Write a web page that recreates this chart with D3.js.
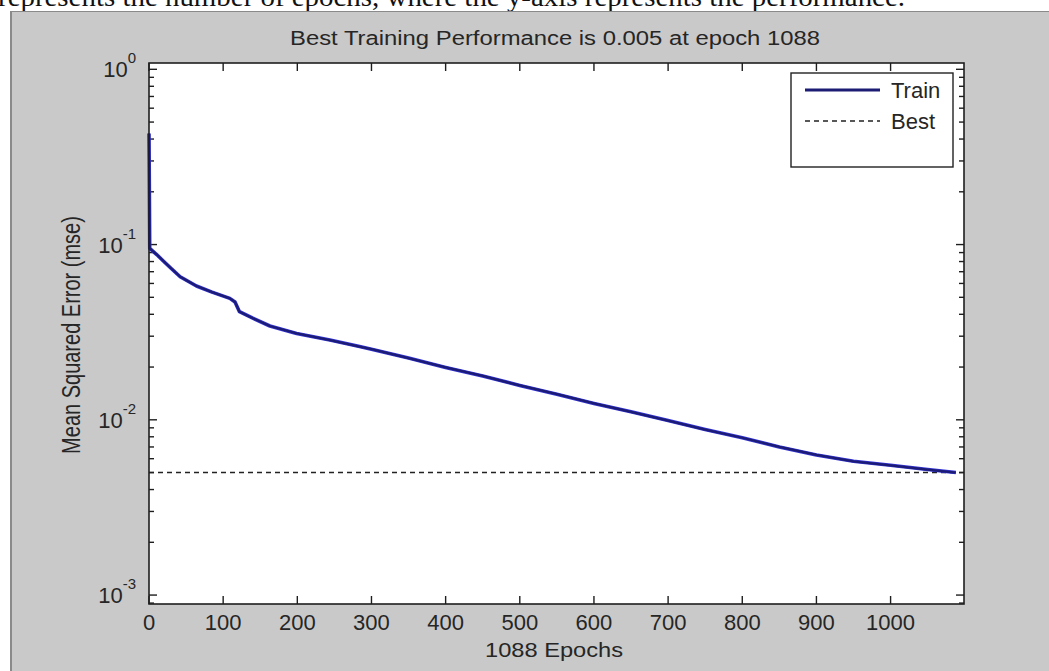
<!DOCTYPE html>
<html>
<head>
<meta charset="utf-8">
<script src="https://cdn.jsdelivr.net/npm/d3@7"></script>
<style>
  html, body { margin: 0; padding: 0; background: #fff; }
  svg { display: block; }
</style>
</head>
<body>
<svg id="chart" width="1049" height="671"></svg>
<script>
// ---- data ----
const epochs = [0, 1, 10, 20, 30, 42, 64, 85, 109, 116, 122, 140, 163, 199, 244, 284, 300, 350, 400, 450, 500, 550, 600, 650, 700, 750, 800, 850, 900, 950, 1000, 1050, 1088];
const mseTrain = [0.43, 0.095, 0.088, 0.080, 0.073, 0.0655, 0.058, 0.0535, 0.0493, 0.047, 0.0414, 0.038, 0.0343, 0.0311, 0.0285, 0.0262, 0.0253, 0.0225, 0.0199, 0.0178, 0.0157, 0.0140, 0.0124, 0.0111, 0.0099, 0.0088, 0.0079, 0.0070, 0.0063, 0.0058, 0.0055, 0.0052, 0.0050];
const bestValue = 0.005;
const bestEpoch = 1088;
const xTicks = [0, 100, 200, 300, 400, 500, 600, 700, 800, 900, 1000];
const yDecades = [-3, -2, -1, 0];
const legendLabels = ["Train", "Best"];
const titleText = "Best Training Performance is 0.005 at epoch 1088";
const xLabelText = "1088 Epochs";
const yLabelText = "Mean Squared Error  (mse)";
const captionText = "represents the number of epochs, where the y-axis represents the performance.";

// ---- layout ----
const svg = d3.select("#chart");
const W = 1049, H = 671;
const plot = { left: 149, right: 964, top: 63, bottom: 604 };
const font = "Arial, 'Liberation Sans', Helvetica, sans-serif";
const textColor = "#262626";

// caption fragment (cut off at top, as in the source)
svg.append("text")
  .attr("x", -2).attr("y", 6)
  .attr("font-family", "'Liberation Serif', 'Times New Roman', serif")
  .attr("font-size", 28)
  .attr("textLength", 907).attr("lengthAdjust", "spacingAndGlyphs")
  .attr("fill", "#111")
  .text(captionText);

// gray figure frame
svg.append("rect")
  .attr("x", 10).attr("y", 11).attr("width", W - 10).attr("height", H - 11)
  .attr("fill", "#c9c9c9");
svg.append("line").attr("x1", 10).attr("x2", W).attr("y1", 11.5).attr("y2", 11.5)
  .attr("stroke", "#8a8a8a").attr("stroke-width", 1);
svg.append("line").attr("x1", 11).attr("x2", 11).attr("y1", 11).attr("y2", H)
  .attr("stroke", "#8a8a8a").attr("stroke-width", 2);

// scales
const x = d3.scaleLinear().domain([0, 1099]).range([plot.left, plot.right]);
const y = d3.scaleLog().domain([Math.pow(10, -3.051), Math.pow(10, 0.036)]).range([plot.bottom, plot.top]);

// plot area
svg.append("rect")
  .attr("x", plot.left).attr("y", plot.top)
  .attr("width", plot.right - plot.left).attr("height", plot.bottom - plot.top)
  .attr("fill", "#fff");

// ticks (inward, MATLAB style)
const g = svg.append("g");
const tickColor = "#1e1e1e";
xTicks.forEach(t => {
  g.append("line").attr("x1", x(t)).attr("x2", x(t)).attr("y1", plot.bottom).attr("y2", plot.bottom - 8)
    .attr("stroke", tickColor).attr("stroke-width", 1.4);
  g.append("line").attr("x1", x(t)).attr("x2", x(t)).attr("y1", plot.top).attr("y2", plot.top + 8)
    .attr("stroke", tickColor).attr("stroke-width", 1.4);
  g.append("text").attr("x", x(t)).attr("y", 630)
    .attr("text-anchor", "middle").attr("font-family", font).attr("font-size", 22)
    .attr("fill", textColor).text(t);
});

const minorTicks = [];
for (let d = -4; d <= 0; d++) {
  for (let m = 1; m <= 9; m++) {
    const v = m * Math.pow(10, d);
    if (v >= y.domain()[0] && v <= y.domain()[1]) minorTicks.push({ v, major: m === 1 });
  }
}
minorTicks.forEach(t => {
  const len = t.major ? 8 : 5;
  g.append("line").attr("x1", plot.left).attr("x2", plot.left + len).attr("y1", y(t.v)).attr("y2", y(t.v))
    .attr("stroke", tickColor).attr("stroke-width", 1.4);
  g.append("line").attr("x1", plot.right).attr("x2", plot.right - len).attr("y1", y(t.v)).attr("y2", y(t.v))
    .attr("stroke", tickColor).attr("stroke-width", 1.4);
});

yDecades.forEach(d => {
  const t = g.append("text").attr("x", 136).attr("y", y(Math.pow(10, d)) + 8)
    .attr("text-anchor", "end").attr("font-family", font).attr("font-size", 22).attr("fill", textColor);
  t.append("tspan").text("10");
  t.append("tspan").attr("dy", -14).attr("font-size", 15).text(String(d));
});

// best line
svg.append("line")
  .attr("x1", plot.left).attr("x2", plot.right)
  .attr("y1", y(bestValue)).attr("y2", y(bestValue))
  .attr("stroke", "#222").attr("stroke-width", 1.4).attr("stroke-dasharray", "5,4");

// train line
const line = d3.line().x((d, i) => x(epochs[i])).y(d => y(d));
svg.append("path").datum(mseTrain)
  .attr("d", line)
  .attr("fill", "none").attr("stroke", "#3434d6").attr("stroke-width", 3.6)
  .attr("stroke-linejoin", "round");
svg.append("path").datum(mseTrain)
  .attr("d", line)
  .attr("fill", "none").attr("stroke", "#1c1c74").attr("stroke-width", 2.3)
  .attr("stroke-linejoin", "round");

// axes box
svg.append("rect")
  .attr("x", plot.left).attr("y", plot.top)
  .attr("width", plot.right - plot.left).attr("height", plot.bottom - plot.top)
  .attr("fill", "none").attr("stroke", "#1e1e1e").attr("stroke-width", 1.6);

// legend
const lg = svg.append("g");
lg.append("rect").attr("x", 791).attr("y", 73).attr("width", 162).attr("height", 94)
  .attr("fill", "#fff").attr("stroke", "#222").attr("stroke-width", 1.4);
lg.append("line").attr("x1", 805).attr("x2", 880).attr("y1", 90).attr("y2", 90)
  .attr("stroke", "#1c1c74").attr("stroke-width", 3.2);
lg.append("line").attr("x1", 805).attr("x2", 880).attr("y1", 121).attr("y2", 121)
  .attr("stroke", "#222").attr("stroke-width", 1.4).attr("stroke-dasharray", "5,4");
lg.append("text").attr("x", 891).attr("y", 98).attr("font-family", font).attr("font-size", 22)
  .attr("fill", textColor).text(legendLabels[0]);
lg.append("text").attr("x", 891).attr("y", 129).attr("font-family", font).attr("font-size", 22)
  .attr("fill", textColor).text(legendLabels[1]);

// title and labels
svg.append("text").attr("x", 555).attr("y", 45).attr("text-anchor", "middle")
  .attr("font-family", font).attr("font-size", 20)
  .attr("textLength", 530).attr("lengthAdjust", "spacingAndGlyphs")
  .attr("fill", textColor).text(titleText);
svg.append("text").attr("x", 554).attr("y", 657).attr("text-anchor", "middle")
  .attr("font-family", font).attr("font-size", 21)
  .attr("textLength", 138).attr("lengthAdjust", "spacingAndGlyphs")
  .attr("fill", textColor).text(xLabelText);
svg.append("text").attr("transform", "translate(80,335) scale(1.3,1) rotate(-90)").attr("text-anchor", "middle")
  .attr("font-family", font).attr("font-size", 20)
  .attr("fill", textColor).text(yLabelText);
</script>
</body>
</html>
